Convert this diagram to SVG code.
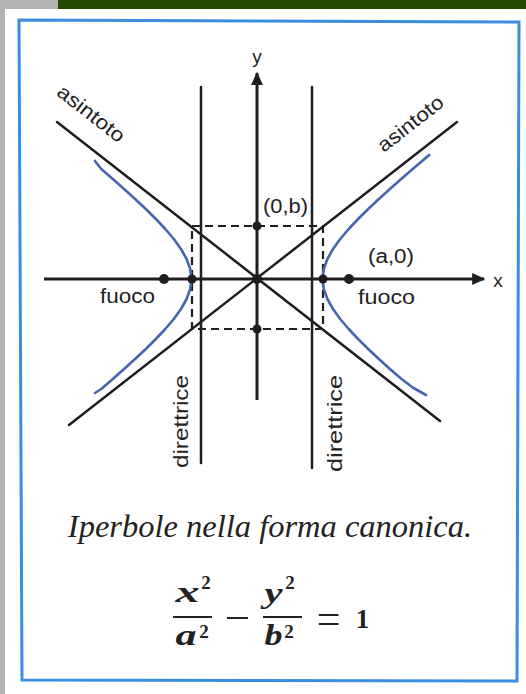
<svg xmlns="http://www.w3.org/2000/svg" width="526" height="694" viewBox="0 0 526 694">
<defs>
<marker id="arr" viewBox="0 0 10 10" refX="9" refY="5" markerWidth="8" markerHeight="4.4" markerUnits="strokeWidth" orient="auto">
<path d="M0,0.5 L10,5 L0,9.5 z" fill="#1e1e1e"/>
</marker>
<style>
.ln{stroke:#1e1e1e;stroke-width:2.5;fill:none;stroke-linecap:round}
.ax{stroke:#1e1e1e;stroke-width:3;fill:none}
.hyp{stroke:#4766ad;stroke-width:2.6;fill:none;stroke-linejoin:round;stroke-linecap:round}
.dash{stroke:#1e1e1e;stroke-width:2.2;fill:none;stroke-dasharray:8 5}
.pt{fill:#1e1e1e}
.lab{font-family:"Liberation Sans",Arial,sans-serif;font-size:20px;fill:#222;text-anchor:middle}
.axl{font-family:"Liberation Sans",Arial,sans-serif;font-size:19px;fill:#222;text-anchor:middle}
.cap{font-family:"Liberation Serif","Times New Roman",serif;font-style:italic;font-size:32.5px;fill:#222;text-anchor:middle}
.m{font-family:"Liberation Serif","Times New Roman",serif;font-style:italic;font-weight:bold;font-size:30px;fill:#222;text-anchor:middle}
.s{font-family:"Liberation Serif","Times New Roman",serif;font-weight:bold;font-size:19px;fill:#222;text-anchor:middle}
.n{font-family:"Liberation Serif","Times New Roman",serif;font-weight:bold;font-size:27px;fill:#222;text-anchor:middle}
.eq{font-family:"Liberation Serif","Times New Roman",serif;font-weight:normal;font-size:42px;fill:#222;text-anchor:middle}
.bar{stroke:#222;stroke-width:2}
</style>
</defs>
<rect width="526" height="694" fill="#ffffff"/>
<rect x="0" y="0" width="5" height="694" fill="#b3b3b3"/>
<rect x="0" y="0" width="58" height="9" fill="#b3b3b3"/>
<rect x="58" y="0" width="468" height="9" fill="#234a00"/>
<polygon id="frame" points="19,20 519,22 517,681 22,680" fill="none" stroke="#3a8ee2" stroke-width="3"/>

<g id="connectors">
<line id="asym1" class="ln" x1="57" y1="122" x2="440" y2="421"/>
<line id="asym2" class="ln" x1="69" y1="425" x2="457" y2="122"/>
<line id="dirL" class="ln" x1="201" y1="87" x2="201" y2="463"/>
<line id="dirR" class="ln" x1="312" y1="87" x2="312" y2="468"/>
<line id="xaxis" class="ax" x1="44" y1="279" x2="484" y2="279" marker-end="url(#arr)"/>
<line id="yaxis" class="ax" x1="257" y1="400" x2="257" y2="73" marker-end="url(#arr)"/>
<polyline id="box" class="dash" points="192,226 323,226 323,329 192,329 192,226"/>
</g>

<g id="hyperbola">
<polyline id="branchR" class="hyp" points="429.2,155 424.5,159 412.7,169 401.2,179 389.9,189 378.9,199 368.2,209 358.1,219 348.7,229 340.2,239 333,249 327.4,259 323.8,269 322.5,279 323.8,289 327.4,299 333,309 340.2,319 348.7,329 358.1,339 368.2,349 378.9,359 389.9,369 401.5,379 413.5,388 426,395"/>
<polyline id="branchL" class="hyp" points="95,161 101.3,169 112.8,179 124.1,189 135.1,199 145.8,209 155.9,219 165.3,229 173.8,239 181,249 186.6,259 190.2,269 191.5,279 190.2,289 186.6,299 181,309 173.8,319 165.3,329 155.9,339 145.8,349 135.1,359 124.1,369 112.8,379 101.3,389 95,393"/>
</g>

<g id="points">
<circle id="origin" class="pt" cx="257" cy="279" r="5"/>
<circle id="p0b" class="pt" cx="257" cy="226" r="4.5"/>
<circle id="p0mb" class="pt" cx="257" cy="329" r="4.5"/>
<circle id="pa0" class="pt" cx="323" cy="279" r="4.5"/>
<circle id="pma0" class="pt" cx="192" cy="279" r="4.5"/>
<circle id="fuocoR" class="pt" cx="349" cy="279" r="5"/>
<circle id="fuocoL" class="pt" cx="164" cy="279" r="5"/>
</g>

<g id="labels">
<text class="axl" x="257" y="63">y</text>
<text class="axl" x="498" y="287">x</text>
<text class="lab" x="285.5" y="213" textLength="45" lengthAdjust="spacingAndGlyphs">(0,b)</text>
<text class="lab" x="391" y="263" textLength="46" lengthAdjust="spacingAndGlyphs">(a,0)</text>
<text class="lab" x="127.5" y="303" textLength="55" lengthAdjust="spacingAndGlyphs">fuoco</text>
<text class="lab" x="386.5" y="304" textLength="57" lengthAdjust="spacingAndGlyphs">fuoco</text>
<text class="lab" transform="translate(87,119) rotate(38)" textLength="80" lengthAdjust="spacingAndGlyphs">asintoto</text>
<text class="lab" transform="translate(414.6,129) rotate(-38)" textLength="78" lengthAdjust="spacingAndGlyphs">asintoto</text>
<text class="lab" transform="translate(188,421.5) rotate(-90)" textLength="93" lengthAdjust="spacingAndGlyphs">direttrice</text>
<text class="lab" transform="translate(342,423.5) rotate(-90)" textLength="97" lengthAdjust="spacingAndGlyphs">direttrice</text>
</g>

<g id="caption">
<text class="cap" x="270" y="537">Iperbole nella forma canonica.</text>
</g>

<g id="formula">
<text class="m" x="187.5" y="602" textLength="24" lengthAdjust="spacingAndGlyphs">x</text>
<text class="s" x="206" y="589">2</text>
<line class="bar" x1="173" y1="617" x2="212" y2="617"/>
<text class="m" x="186" y="645" textLength="21" lengthAdjust="spacingAndGlyphs">a</text>
<text class="s" x="204" y="638">2</text>
<line class="bar" x1="227" y1="618" x2="248" y2="618"/>
<text class="m" x="273.5" y="603" textLength="18" lengthAdjust="spacingAndGlyphs">y</text>
<text class="s" x="290" y="589">2</text>
<line class="bar" x1="263" y1="617" x2="302" y2="617"/>
<text class="m" x="273.5" y="645" textLength="18" lengthAdjust="spacingAndGlyphs">b</text>
<text class="s" x="289" y="638">2</text>
<text class="eq" x="328.5" y="633">=</text>
<text class="n" x="362.5" y="628">1</text>
</g>
</svg>
